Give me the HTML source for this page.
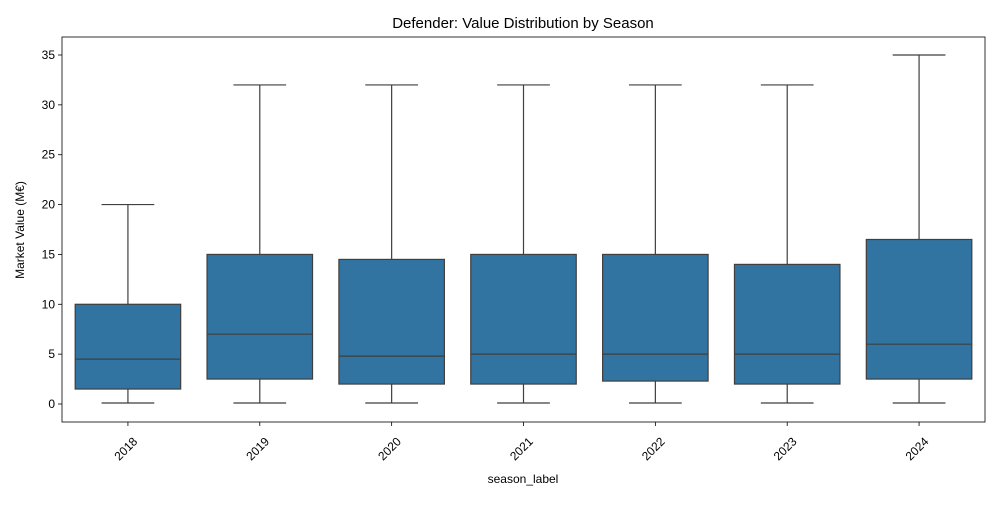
<!DOCTYPE html>
<html><head><meta charset="utf-8"><style>
body{margin:0;background:#fff;}
svg text{font-family:"Liberation Sans","DejaVu Sans",sans-serif;fill:#000;}
</style></head><body>
<svg id="chart" width="1000" height="500">
<rect width="1000" height="500" fill="#fff"/>
<text x="523" y="28" font-size="15" text-anchor="middle">Defender: Value Distribution by Season</text>
<text x="523" y="483" font-size="12" text-anchor="middle">season_label</text>
<text transform="translate(24,230) rotate(-90)" font-size="12" text-anchor="middle">Market Value (M€)</text>
<g id="ticks"></g>
<g id="boxes"></g>
<rect x="62" y="37" width="923" height="385" fill="none" stroke="#000" stroke-width="0.8"/>
</svg>
<script>
const categories=["2018","2019","2020","2021","2022","2023","2024"];
const mins=[0.1,0.1,0.1,0.1,0.1,0.1,0.1];
const q1s=[1.5,2.5,2,2,2.3,2,2.5];
const medians=[4.5,7,4.8,5,5,5,6];
const q3s=[10,15,14.5,15,15,14,16.5];
const maxs=[20,32,32,32,32,32,35];
const yTicks=[0,5,10,15,20,25,30,35];
const L=62,R=985;
const step=(R-L)/categories.length;
const x=i=>L+step*(i+0.5);
const y=v=>404-v*(349/35);
const NS="http://www.w3.org/2000/svg";
function mk(tag,attrs,parent){const e=document.createElementNS(NS,tag);for(const k in attrs)e.setAttribute(k,attrs[k]);parent.appendChild(e);return e;}
const tg=document.getElementById('ticks'),bg=document.getElementById('boxes');
yTicks.forEach(t=>{
 const l=mk('line',{x1:L-4,x2:L,y1:y(t),y2:y(t),stroke:'#000','stroke-width':0.8},tg);
 
 
 const tx=mk('text',{x:L-7,y:y(t)+4,'font-size':12,'text-anchor':'end'},tg);tx.textContent=t;
 
 
});
const bw=step*0.8;
categories.forEach((c,i)=>{
 const cx=x(i);
 const l=mk('line',{x1:cx,x2:cx,y1:422,y2:426,stroke:'#000','stroke-width':0.8},tg);
 
 
 const tx=mk('text',{transform:`translate(${cx+4},${436}) rotate(-45)`,'font-size':12,'text-anchor':'end','dominant-baseline':'hanging'},tg);tx.textContent=c;
 
 
 const g=mk('g',{},bg);
 
 
 const st={stroke:'#3f3f3f','stroke-width':1.2};
 mk('line',{x1:cx,x2:cx,y1:y(q3s[i]),y2:y(maxs[i]),...st},g);
 mk('line',{x1:cx,x2:cx,y1:y(q1s[i]),y2:y(mins[i]),...st},g);
 mk('line',{x1:cx-bw/4,x2:cx+bw/4,y1:y(maxs[i]),y2:y(maxs[i]),...st},g);
 mk('line',{x1:cx-bw/4,x2:cx+bw/4,y1:y(mins[i]),y2:y(mins[i]),...st},g);
 mk('rect',{x:cx-bw/2,y:y(q3s[i]),width:bw,height:y(q1s[i])-y(q3s[i]),fill:'#3274a1',...st},g);
 mk('line',{x1:cx-bw/2,x2:cx+bw/2,y1:y(medians[i]),y2:y(medians[i]),...st},g);
});
</script>
</body></html>
